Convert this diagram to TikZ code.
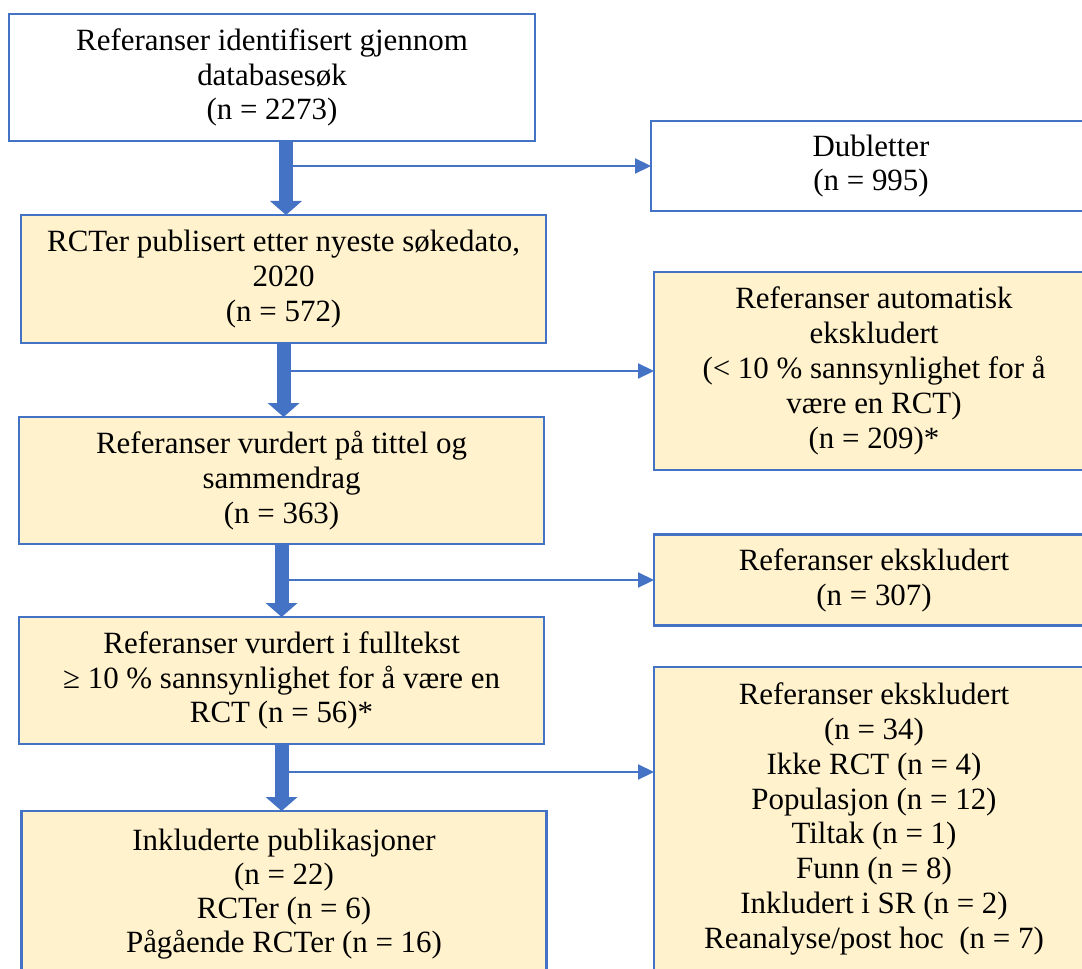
\documentclass[tikz,border=0pt]{standalone}
\usepackage{fontspec}
\setmainfont{Liberation Serif}
\usetikzlibrary{arrows.meta, positioning}
\definecolor{boxblue}{HTML}{4472C4}
\definecolor{boxfill}{HTML}{FFF2CC}

\begin{document}
\begin{tikzpicture}[
    node distance=1.85cm,
    box/.style={rectangle, draw=boxblue, line width=1.8pt, align=center, minimum width=13.125cm, minimum height=3.175cm, inner sep=2pt, outer sep=0pt, font=\fontsize{22}{24.8}\selectfont},
    stage/.style={box, fill=boxfill},
    outbox/.style={box, minimum width=11cm, anchor=west},
    bigarrow/.style={boxblue, line width=0.35cm, -{Triangle[length=0.35cm, width=0.78cm]}},
    arrow/.style={boxblue, line width=1pt, -{Triangle[length=0.4cm, width=0.38cm]}}
    ]

    \clip (0,0) rectangle (27.05,-24.225);

    % Main column
    \node (ident) [box, minimum width=13.15cm] at (6.8,-1.9375) {Referanser identifisert gjennom\\databasesøk\\(n = 2273)};
    \node (rct) [stage, below=of ident, xshift=0.29cm, minimum height=3.2cm] {RCTer publisert etter nyeste søkedato,\\2020\\(n = 572)};
    \node (title) [stage, below=of rct, xshift=-0.05cm] {Referanser vurdert på tittel og\\sammendrag\\(n = 363)};
    \node (full) [stage, below=1.825cm of title] {Referanser vurdert i fulltekst\\≥ 10 \% sannsynlighet for å være en\\RCT (n = 56)*};
    \node (incl) [stage, below=1.675cm of full, xshift=0.06cm, minimum height=4.15cm, font=\fontsize{22}{24}\selectfont] {Inkluderte publikasjoner\\(n = 22)\\RCTer (n = 6)\\Pågående RCTer (n = 16)};

    % Branch points
    \coordinate (j1) at ([xshift=0.35cm, yshift=-0.625cm]ident.south);
    \coordinate (j2) at ([yshift=-0.7cm]rct.south);
    \coordinate (j3) at ([yshift=-0.9cm]title.south);
    \coordinate (j4) at ([yshift=-0.7cm]full.south);

    % Excluded boxes
    \node (dub) [outbox, right=9.125cm of j1, minimum height=2.25cm] {Dubletter\\(n = 995)};
    \node (auto) [outbox, fill=boxfill, right=9.26cm of j2, minimum height=4.95cm] {Referanser automatisk\\ekskludert\\(< 10 \% sannsynlighet for å\\være en RCT)\\(n = 209)*};
    \node (excl1) [outbox, fill=boxfill, right=9.31cm of j3, minimum height=2.275cm] {Referanser ekskludert\\(n = 307)};
    \node (excl2) [outbox, fill=boxfill, anchor=north west, minimum height=7.6cm] at ([xshift=9.31cm, yshift=2.625cm]j4) {Referanser ekskludert\\(n = 34)\\Ikke RCT (n = 4)\\Populasjon (n = 12)\\Tiltak (n = 1)\\Funn (n = 8)\\Inkludert i SR (n = 2)\\Reanalyse/post hoc\ \ (n = 7)};

    % Side arrows
    \draw[arrow] (j1) -- (dub);
    \draw[arrow] (j2) -- (auto);
    \draw[arrow] (j3) -- (excl1);
    \draw[arrow] (j4) -- (j4 -| excl2.west);

    % Main flow
    \draw[bigarrow] ([xshift=0.35cm]ident.south) -- (j1 |- rct.north);
    \draw[bigarrow] (rct.south) -- (rct.south |- title.north);
    \draw[bigarrow] (title.south) -- (title.south |- full.north);
    \draw[bigarrow] (full.south) -- (full.south |- incl.north);
\end{tikzpicture}
\end{document}
